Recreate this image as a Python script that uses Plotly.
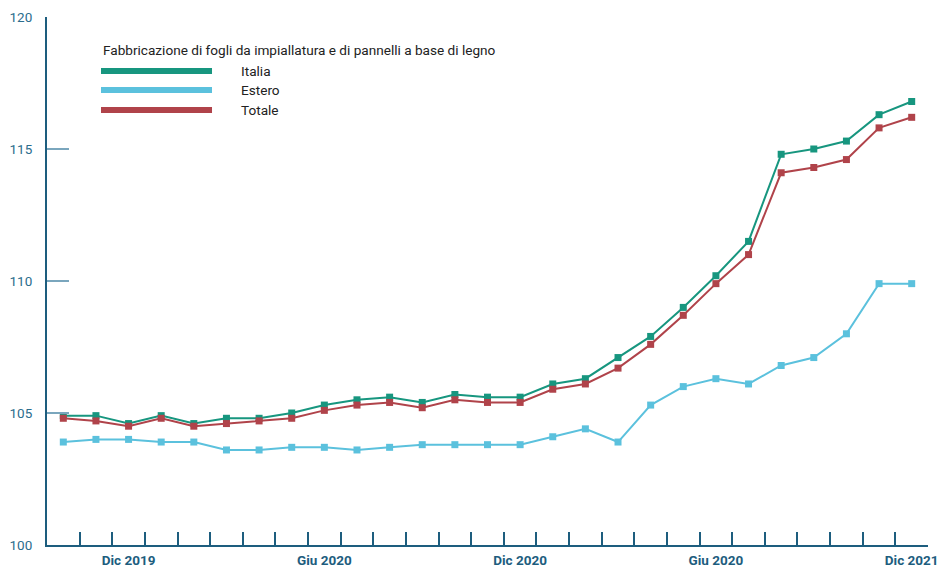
import plotly.graph_objects as go

months = ["Ott 2019", "Nov 2019", "Dic 2019", "Gen 2020", "Feb 2020", "Mar 2020", "Apr 2020",
          "Mag 2020", "Giu 2020", "Lug 2020", "Ago 2020", "Set 2020", "Ott 2020", "Nov 2020",
          "Dic 2020", "Gen 2021", "Feb 2021", "Mar 2021", "Apr 2021", "Mag 2021", "Giu 2021",
          "Lug 2021", "Ago 2021", "Set 2021", "Ott 2021", "Nov 2021", "Dic 2021"]

italia = [104.9, 104.9, 104.6, 104.9, 104.6, 104.8, 104.8, 105.0, 105.3, 105.5, 105.6, 105.4,
          105.7, 105.6, 105.6, 106.1, 106.3, 107.1, 107.9, 109.0, 110.2, 111.5, 114.8, 115.0,
          115.3, 116.3, 116.8]
estero = [103.9, 104.0, 104.0, 103.9, 103.9, 103.6, 103.6, 103.7, 103.7, 103.6, 103.7, 103.8,
          103.8, 103.8, 103.8, 104.1, 104.4, 103.9, 105.3, 106.0, 106.3, 106.1, 106.8, 107.1,
          108.0, 109.9, 109.9]
totale = [104.8, 104.7, 104.5, 104.8, 104.5, 104.6, 104.7, 104.8, 105.1, 105.3, 105.4, 105.2,
          105.5, 105.4, 105.4, 105.9, 106.1, 106.7, 107.6, 108.7, 109.9, 111.0, 114.1, 114.3,
          114.6, 115.8, 116.2]

series_names = ["Italia", "Estero", "Totale"]
series_colors = ["#17967f", "#5bc1dd", "#b0434a"]
legend_title = "Fabbricazione di fogli da impiallatura e di pannelli a base di legno"

label_idx = [2, 8, 14, 20, 26]
label_text = ["Dic 2019", "Giu 2020", "Dic 2020", "Giu 2020", "Dic 2021"]

y_ticks = [100, 105, 110, 115, 120]

x = list(range(len(months)))
axis_col = "#1d5d7e"
font_fam = "Roboto, 'DejaVu Sans', sans-serif"

fig = go.Figure()
for name, vals, col in zip(series_names, [italia, estero, totale], series_colors):
    fig.add_trace(go.Scatter(
        x=x, y=vals, name=name, mode="lines+markers",
        line=dict(color=col, width=2),
        marker=dict(symbol="square", size=7, color=col),
        customdata=months, hovertemplate="%{customdata}: %{y}<extra>" + name + "</extra>",
        showlegend=False, xaxis="x", yaxis="y", cliponaxis=False))

# invisible trace for label axis
fig.add_trace(go.Scatter(x=[x[0], x[-1]], y=[None, None], xaxis="x2", yaxis="y",
                         showlegend=False, hoverinfo="skip", mode="markers"))

# Legend drawn manually
fig.add_annotation(xref="paper", yref="paper", x=0.0613, y=0.9375, xanchor="left", yanchor="middle",
                   text=legend_title, showarrow=False,
                   font=dict(family=font_fam, size=13.6, color="#222222"))
leg_y = [0.8977, 0.8617, 0.8239]
for name, col, ly in zip(series_names, series_colors, leg_y):
    fig.add_shape(type="line", xref="paper", yref="paper", x0=0.0613, x1=0.1873, y0=ly, y1=ly,
                  line=dict(color=col, width=6))
    fig.add_annotation(xref="paper", yref="paper", x=0.2176, y=ly, xanchor="left", yanchor="middle",
                       text=name, showarrow=False,
                       font=dict(family=font_fam, size=13.6, color="#222222"))

fig.update_layout(
    width=938, height=568,
    margin=dict(l=47, r=10, t=17, b=23),
    plot_bgcolor="white", paper_bgcolor="white",
    showlegend=False,
    xaxis=dict(range=[-0.5, 26.5], tickmode="linear", tick0=-0.5, dtick=1,
               showticklabels=False, ticks="inside", ticklen=13, tickwidth=1.5,
               tickcolor=axis_col, showline=True, linecolor=axis_col, linewidth=2,
               showgrid=False, zeroline=False, automargin=False),
    xaxis2=dict(range=[-0.5, 26.5], overlaying="x", anchor="y", side="bottom",
                tickmode="array", tickvals=label_idx, ticktext=label_text,
                ticks="outside", ticklen=3, tickcolor="rgba(0,0,0,0)",
                ticklabeloverflow="allow",
                tickfont=dict(family=font_fam, size=13.5, color=axis_col, weight="bold"),
                showline=False, showgrid=False, zeroline=False, automargin=False),
    yaxis=dict(range=[100, 120], tickmode="array", tickvals=y_ticks,
               ticks="inside", ticklen=22, tickwidth=1.5, tickcolor="#7aa6bd",
               ticklabelstandoff=10,
               tickfont=dict(family=font_fam, size=13.5, color="#2b6d8d"),
               showline=True, linecolor=axis_col, linewidth=2,
               showgrid=False, zeroline=False, automargin=False),
)

fig.write_html("out.html", config={"displayModeBar": False},
               post_script="document.body.style.margin='0';document.body.style.overflow='hidden';")
